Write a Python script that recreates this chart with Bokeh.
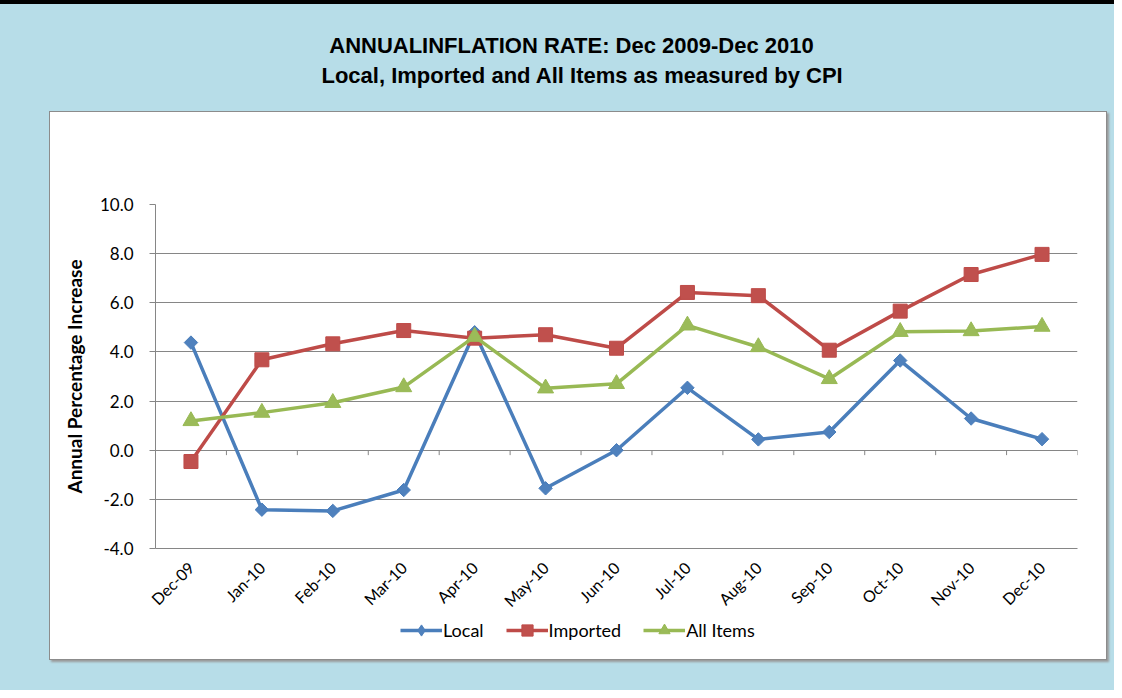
from math import pi
from bokeh.plotting import figure
from bokeh.models import (ColumnDataSource, FactorRange, Range1d, Legend, LegendItem,
                          Label, FixedTicker, NumeralTickFormatter)
from bokeh.layouts import column
from bokeh.embed import file_html
from bokeh.resources import INLINE

# ---- data ----
months = ["Dec-09", "Jan-10", "Feb-10", "Mar-10", "Apr-10", "May-10", "Jun-10",
          "Jul-10", "Aug-10", "Sep-10", "Oct-10", "Nov-10", "Dec-10"]
local = [4.38, -2.42, -2.47, -1.62, 4.80, -1.55, 0.00, 2.54, 0.44, 0.74, 3.65, 1.29, 0.45]
imported = [-0.46, 3.68, 4.33, 4.87, 4.56, 4.70, 4.15, 6.42, 6.29, 4.07, 5.66, 7.15, 7.97]
all_items = [1.19, 1.53, 1.93, 2.57, 4.62, 2.52, 2.70, 5.08, 4.20, 2.90, 4.82, 4.85, 5.03]
y_ticks = [-4, -2, 0, 2, 4, 6, 8, 10]

title1 = "ANNUALINFLATION RATE: Dec 2009-Dec 2010"
title2 = "Local, Imported and All Items as measured by CPI"
y_label = "Annual Percentage Increase"

src = ColumnDataSource(dict(x=months, local=local, imported=imported, all_items=all_items))

BG = "#B7DDE8"
FONT = "Lato"
LEFT_BORDER = 105
GRID = "#868686"

# name, column, line colour, fill colour, plot marker, size, angle, legend marker
series = [
    ("Local", "local", "#4A7EBB", "#4F81BD", "square", 9.5, pi / 4, "diamond"),
    ("Imported", "imported", "#BE4B48", "#C0504D", "square", 14, 0, "square"),
    ("All Items", "all_items", "#98B954", "#9BBB59", "triangle", 16, 0, "triangle"),
]

# ---- title strip ----
tf = figure(width=1114, height=112, toolbar_location=None, output_backend="svg",
            x_axis_type=None, y_axis_type=None, min_border=0, min_border_left=LEFT_BORDER,
            border_fill_color=None, background_fill_color=None, outline_line_color=None)
tf.grid.visible = False
tf.add_layout(Label(x=571 - LEFT_BORDER, y=67, x_units="screen", y_units="screen", text=title1,
                    text_align="center", text_baseline="middle", text_font="Liberation Sans",
                    text_font_style="bold", text_font_size="22px", text_color="#000000"))
tf.add_layout(Label(x=582 - LEFT_BORDER, y=37, x_units="screen", y_units="screen", text=title2,
                    text_align="center", text_baseline="middle", text_font="Liberation Sans",
                    text_font_style="bold", text_font_size="22px", text_color="#000000"))

# ---- main chart ----
p = figure(x_range=FactorRange(*months), y_range=Range1d(-4, 10),
           width=1056, height=507, toolbar_location=None, output_backend="svg",
           min_border_left=LEFT_BORDER, min_border_right=29, min_border_top=92,
           min_border_bottom=71,
           outline_line_color=None, border_fill_color="white", background_fill_color="white")

p.xgrid.grid_line_color = None
p.ygrid.grid_line_color = GRID
p.ygrid.grid_line_width = 1

p.yaxis.ticker = FixedTicker(ticks=y_ticks)
p.yaxis.formatter = NumeralTickFormatter(format="0.0")
p.yaxis.axis_line_color = GRID
p.yaxis.major_tick_line_color = GRID
p.yaxis.major_tick_out = 6
p.yaxis.major_tick_in = 0
p.yaxis.minor_tick_line_color = None
p.yaxis.major_label_standoff = 16
p.yaxis.major_label_text_font = FONT
p.yaxis.major_label_text_font_size = "17px"
p.yaxis.major_label_text_color = "#000000"
p.yaxis.axis_label = y_label
p.yaxis.axis_label_text_font = FONT
p.yaxis.axis_label_text_font_style = "bold"
p.yaxis.axis_label_text_font_size = "19px"
p.yaxis.axis_label_text_color = "#000000"
p.yaxis.axis_label_standoff = 11

p.xaxis.axis_line_color = GRID
p.xaxis.major_tick_line_color = None
p.xaxis.major_tick_out = 0
p.xaxis.major_tick_in = 0
p.xaxis.major_label_orientation = pi / 4
p.xaxis.major_label_standoff = 16
p.xaxis.major_label_text_font = FONT
p.xaxis.major_label_text_font_size = "16px"
p.xaxis.major_label_text_color = "#000000"

# category-boundary tick marks hanging from the zero line (Excel style axis crossing at 0)
bounds = list(range(1, len(months) + 1))
p.segment(x0=bounds, y0=[0] * len(bounds), x1=bounds, y1=[-0.2] * len(bounds),
          line_color=GRID, line_width=1)

for name, col, lc, fc, mk, sz, ang, lmk in series:
    p.line("x", col, source=src, line_color=lc, line_width=3.5)
    p.scatter("x", col, source=src, marker=mk, size=sz, angle=ang,
              fill_color=fc, line_color=lc, line_width=1)

# ---- legend strip (white, below the chart, same panel) ----
lf = figure(x_range=FactorRange(*months), y_range=Range1d(100, 101),
            width=1056, height=40, toolbar_location=None, output_backend="svg",
            x_axis_location=None, y_axis_location=None, min_border=0,
            min_border_left=LEFT_BORDER,
            outline_line_color=None, border_fill_color="white", background_fill_color="white")
lf.grid.visible = False
items = []
for name, col, lc, fc, mk, sz, ang, lmk in series:
    lr = lf.line("x", col, source=src, line_color=lc, line_width=3.5)
    sr = lf.scatter("x", col, source=src, marker=lmk, size=sz,
                    fill_color=fc, line_color=lc, line_width=1)
    items.append(LegendItem(label=name, renderers=[lr, sr]))
legend = Legend(items=items, orientation="horizontal", location=(245, 15),
                padding=0, margin=0, spacing=22, label_standoff=1,
                glyph_width=42, glyph_height=28, label_height=20,
                label_text_font=FONT, label_text_font_size="18px", label_text_color="#000000",
                background_fill_alpha=0, border_line_color=None)
lf.add_layout(legend, "center")

panel = column(p, lf, width=1056, height=547, margin=(0, 0, 0, 50),
               styles={"background-color": "white",
                       "box-shadow": "0 0 0 1px #8c8c8c, 2px 2px 2px 1px #9a9a9a"})

layout = column(tf, panel, width=1114, height=690,
                styles={"background-color": BG, "box-shadow": "inset 0 4px 0 0 #000000"})

open("out.html", "w").write(file_html(layout, INLINE))
